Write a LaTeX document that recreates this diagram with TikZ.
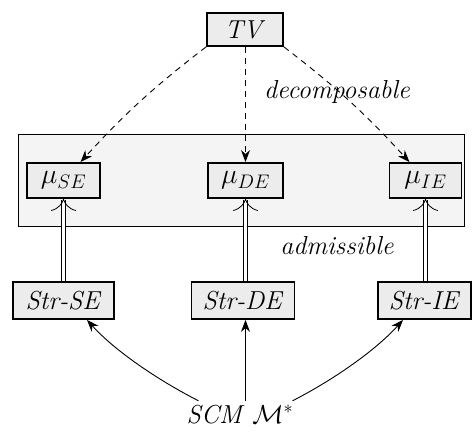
\RequirePackage{fix-cm}
\documentclass[tikz,border=0pt]{standalone}
\usepackage{fontspec}
\usetikzlibrary{arrows.meta,calc}
\definecolor{boxfill}{gray}{0.925}
\definecolor{panelfill}{gray}{0.955}
\tikzset{
  box/.style={draw, line width=1.8pt, fill=boxfill, inner sep=0pt, align=center},
  mubox/.style={box, minimum height=35pt, font=\fontsize{28}{32}\selectfont},
  dasharr/.style={line width=0.9pt, dash pattern=on 6pt off 5pt, -{Stealth[length=12pt,width=9pt]}},
  dblarr/.style={double, double distance=2.6pt, line width=0.8pt, -{Computer Modern Rightarrow[length=12pt,width=25pt,line width=0.8pt]}},
  solarr/.style={line width=0.9pt, -{Stealth[length=12pt,width=9pt]}},
  lbl/.style={anchor=base, inner sep=0pt}
}
\begin{document}
\begin{tikzpicture}[x=1pt,y=1pt,font=\fontsize{26}{30}\selectfont]
\useasboundingbox (0,0) rectangle (476,434);
% panel
\draw[line width=0.9pt, fill=panelfill] (18,208) rectangle (464,300);
% nodes
\node[box, minimum width=76pt, minimum height=33pt] (TV) at (245,404.5) {\textit{TV}};
\node[mubox, minimum width=73pt] (muSE) at (63.5,253.5) {$\mu_{SE}$};
\node[mubox, minimum width=75pt] (muDE) at (245.5,253.5) {$\mu_{DE}$};
\node[mubox, minimum width=72pt] (muIE) at (425.5,253.5) {$\mu_{IE}$};
\node[box, minimum width=101pt, minimum height=37pt] (StrSE) at (63.5,133.5) {\textit{Str-SE}};
\node[box, minimum width=103pt, minimum height=37pt] (StrDE) at (243,133.5) {\textit{Str-DE}};
\node[box, minimum width=93pt, minimum height=37pt] (StrIE) at (424.5,133.5) {\textit{Str-IE}};
\node[anchor=base, inner sep=4pt, text height=18pt, text depth=4pt] (SCM) at (240,11) {\textit{SCM} $\mathcal{M}^*$};
\node[lbl] (dec) at (337,335.7) {\textit{decomposable}};
\node[lbl] (adm) at (337,179) {\textit{admissible}};
% dashed arrows
\draw[dasharr] (TV.south west) to[bend right=5] ($(muSE.north)+(17,0)$);
\draw[dasharr] (TV.south -| muDE) -- (muDE.north);
\draw[dasharr] (TV.south east) to[bend left=5] ($(muIE.north)+(-16,0)$);
% double arrows
\draw[dblarr] (StrSE.north) -- (muSE.south);
\draw[dblarr] (StrDE.north -| muDE) -- (muDE.south);
\draw[dblarr] (StrIE.north -| muIE) -- (muIE.south);
% SCM arrows
\coordinate (s0) at (SCM.north -| muDE);
\draw[solarr] ($(s0)+(-47,0)$) to[out=153,in=-48,looseness=0.8] ($(StrSE.south)+(23.5,0)$);
\draw[solarr] (s0) -- (StrDE.south -| muDE);
\draw[solarr] ($(s0)+(47,0)$) to[out=27,in=228,looseness=0.8] ($(StrIE.south)+(-21.5,0)$);
\end{tikzpicture}
\end{document}
